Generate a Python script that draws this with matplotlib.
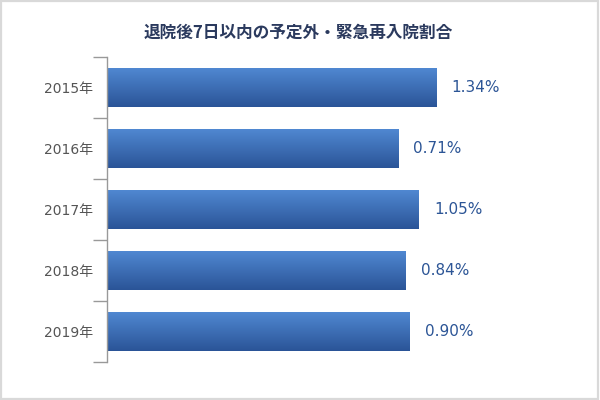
import matplotlib
matplotlib.use("Agg")
import matplotlib.pyplot as plt
import numpy as np
from matplotlib.colors import LinearSegmentedColormap
from matplotlib.patches import Rectangle

plt.rcParams['font.family'] = ['DejaVu Sans', 'Noto Sans CJK JP']

title = "退院後7日以内の予定外・緊急再入院割合"
years = ["2015年", "2016年", "2017年", "2018年", "2019年"]
values = [1.34, 0.71, 1.05, 0.84, 0.90]
value_labels = ["1.34%", "0.71%", "1.05%", "0.84%", "0.90%"]

axis_min = -4.09
axis_max = 3.38

fig = plt.figure(figsize=(6, 4), dpi=100)
fig.patch.set_facecolor("white")
# outer border
fig.patches.append(Rectangle((0.002, 0.003), 0.995, 0.994, transform=fig.transFigure,
                             fill=False, edgecolor="#d9d9d9", linewidth=1.6))

ax = fig.add_axes([107/600, 1-362/400, (560-107)/600, (362-57)/400])
ypos = np.arange(len(years))
bars = ax.barh(ypos, [v - axis_min for v in values], left=axis_min, height=0.645,
               color="none", edgecolor="none")

cmap = LinearSegmentedColormap.from_list("g", ["#5189d3", "#2a5497"])
grad = np.linspace(0, 1, 256).reshape(-1, 1)
for b in bars:
    x0, y0 = b.get_x(), b.get_y()
    w, h = b.get_width(), b.get_height()
    im = ax.imshow(grad, cmap=cmap, aspect="auto", origin="upper",
                   extent=[x0, x0 + w, y0 + h, y0], zorder=2)
    im.set_clip_path(b)

for y, v, lab in zip(ypos, values, value_labels):
    ax.annotate(lab, (v, y), xytext=(11, 0), textcoords="offset points",
                va="center", ha="left", fontsize=11, color="#2c5596")

ax.set_xlim(axis_min, axis_max)
ax.set_ylim(len(years) - 0.5, -0.5)
ax.set_yticks(ypos)
ax.set_yticklabels(years, fontsize=10, color="#555555")
ax.set_yticks(np.arange(len(years) + 1) - 0.5, minor=True)
ax.tick_params(axis="y", which="major", length=0, pad=10)
ax.tick_params(axis="y", which="minor", length=10, color="#999999", width=1)
ax.set_xticks([])
for s in ["top", "right", "bottom"]:
    ax.spines[s].set_visible(False)
ax.spines["left"].set_color("#999999")
ax.spines["left"].set_linewidth(1)

fig.text(0.497, 1-33/400, title, ha="center", va="center", fontsize=12,
         fontweight="bold", color="#2b3a5e", family=['Noto Sans CJK JP', 'DejaVu Sans'])

fig.savefig("out.png", dpi=100, facecolor="white")
